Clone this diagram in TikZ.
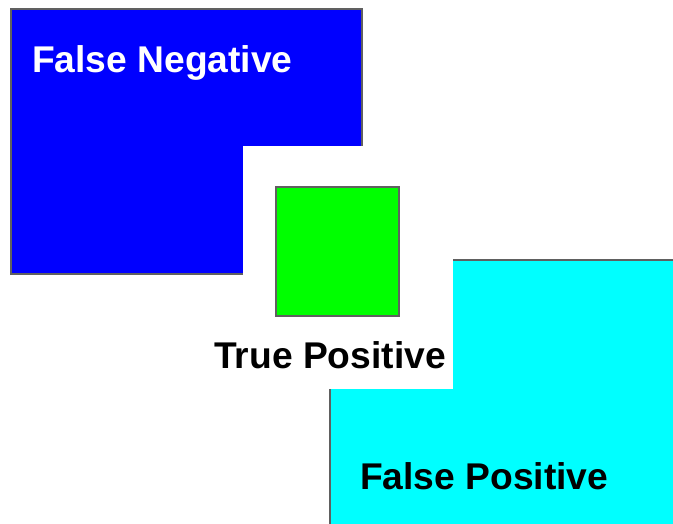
\documentclass[tikz,border=0pt]{standalone}
\usepackage{fontspec}
\setmainfont{Liberation Sans}
\usepackage{tikz}
\definecolor{fnBlue}{RGB}{0,0,255}
\definecolor{tpGreen}{RGB}{0,255,0}
\definecolor{fpCyan}{RGB}{0,255,255}
\definecolor{edgeGray}{RGB}{96,96,96}

\begin{document}
\begin{tikzpicture}[
    x=1pt,y=-1pt,
    region/.style={draw=edgeGray,line width=1.8pt},
    hole/.style={fill=white,draw=none},
    lbl/.style={anchor=base west,inner sep=0pt,
                font=\fontsize{37.2}{44}\selectfont\bfseries},
  ]
    \useasboundingbox (0,0) rectangle (673,524);

    % Regions
    \filldraw[region,fill=fnBlue]  (11,9) rectangle (362,274);
    \filldraw[region,fill=fpCyan]  (330,260) rectangle (690,540);
    \fill[hole] (243,146) rectangle (453,389);
    \filldraw[region,fill=tpGreen] (276,187) rectangle (399,316);

    % Labels
    \node[lbl,text=white] (fn) at (32,72.7)  {False Negative};
    \node[lbl]            (tp) at (214,368.3) {True Positive};
    \node[lbl]            (fp) at (360,489.3) {False Positive};

  \end{tikzpicture}
\end{document}
